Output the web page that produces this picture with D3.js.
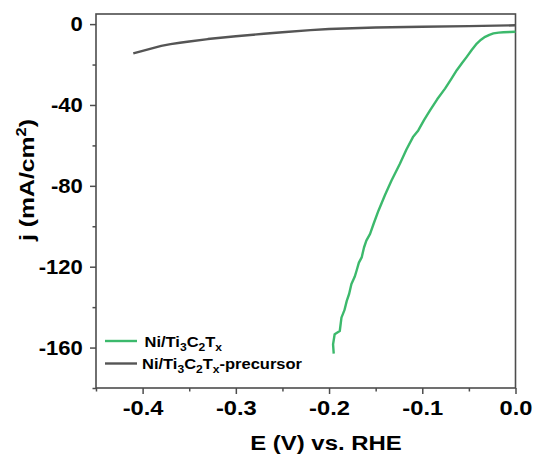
<!DOCTYPE html>
<html>
<head>
<meta charset="utf-8">
<script src="https://cdn.jsdelivr.net/npm/d3@7"></script>
<style>
  html, body { margin: 0; padding: 0; background: #fff; }
  svg text { font-family: "Liberation Sans", Arial, sans-serif; font-weight: bold; fill: #000; }
</style>
</head>
<body>
<svg id="chart" width="535" height="456"></svg>
<script>
// Polarization curves (LSV), potential E vs. RHE and current density j
const catalystE = [-0.195, -0.1957, -0.194, -0.1885, -0.1867, -0.1835, -0.181, -0.1785, -0.176, -0.1725, -0.1705,
  -0.168, -0.165, -0.1625, -0.160, -0.156, -0.152, -0.147, -0.140, -0.133, -0.124, -0.117, -0.110,
  -0.1043, -0.098, -0.0917, -0.084, -0.0756, -0.069, -0.063, -0.0575, -0.0523, -0.047, -0.0415, -0.037,
  -0.0326, -0.028, -0.0237, -0.018, -0.0129, -0.006, 0.0];
const catalystJ = [-163.0, -158.4, -153.4, -151.8, -145.2, -141.5, -136.9, -133.5, -128.6, -125.0, -122.0,
  -118.0, -115.4, -110.5, -107.1, -103.8, -98.5, -92.3, -84.5, -77.4, -69.1, -62.0, -55.9,
  -52.6, -47.4, -42.7, -37.2, -31.9, -27.2, -22.8, -19.4, -16.2, -12.8, -9.6, -7.7,
  -6.3, -5.3, -4.6, -4.2, -4.0, -3.9, -3.8];

const precursorE = [-0.41, -0.40, -0.39, -0.38, -0.37, -0.36, -0.35, -0.33, -0.30, -0.27, -0.25, -0.22, -0.20, -0.15, -0.10, -0.05, 0.0];
const precursorJ = [-14.5, -13.2, -12.0, -10.8, -9.9, -9.2, -8.6, -7.4, -6.0, -4.8, -4.0, -3.0, -2.4, -1.7, -1.3, -1.0, -0.6];

const xMajorTicks = [-0.4, -0.3, -0.2, -0.1, 0.0];
const xMinorTicks = [-0.45, -0.35, -0.25, -0.15, -0.05];
const yMajorTicks = [0, -40, -80, -120, -160];
const yMinorTicks = [-20, -60, -100, -140, -180];

const seriesColors = ["#3cb96c", "#555555"];

const svg = d3.select("#chart");
const margin = { top: 14, right: 19.5, bottom: 68, left: 96 };
const W = 535, H = 456;
const iw = W - margin.left - margin.right;
const ih = H - margin.top - margin.bottom;

const x = d3.scaleLinear().domain([-0.45, 0]).range([0, iw]);
const y = d3.scaleLinear().domain([-180, 5]).range([ih, 0]);

const g = svg.append("g").attr("transform", `translate(${margin.left},${margin.top})`);

const frameColor = "#4d4d4d";
// plain hyphen-minus for negative tick labels
const fmtX = d => (d < 0 ? "-" : "") + Math.abs(d).toFixed(1);
const fmtY = d => (d < 0 ? "-" : "") + Math.abs(d);

function styleAxis(sel) {
  sel.select(".domain").remove();
  sel.selectAll(".tick line").attr("stroke", frameColor).attr("stroke-width", 1.5);
  sel.selectAll(".tick text").style("font-size", "21px").attr("fill", "#000");
}

const xAxis = g.append("g").attr("transform", `translate(0,${ih})`)
  .call(d3.axisBottom(x).tickValues(xMajorTicks).tickSize(6).tickPadding(6).tickFormat(fmtX));
styleAxis(xAxis);
xAxis.selectAll(".tick text").attr("transform", "scale(1.13,1)");
const xMinor = g.append("g").attr("transform", `translate(0,${ih})`)
  .call(d3.axisBottom(x).tickValues(xMinorTicks).tickSize(3.5).tickFormat(""));
styleAxis(xMinor);

const yAxis = g.append("g")
  .call(d3.axisLeft(y).tickValues(yMajorTicks).tickSize(6).tickPadding(7).tickFormat(fmtY));
styleAxis(yAxis);
yAxis.selectAll(".tick text").attr("x", -12.5).attr("transform", "scale(1.05,1)");
const yMinor = g.append("g")
  .call(d3.axisLeft(y).tickValues(yMinorTicks).tickSize(3.5).tickFormat(""));
styleAxis(yMinor);

// frame
g.append("rect")
  .attr("x", 0).attr("y", 0).attr("width", iw).attr("height", ih)
  .attr("fill", "none").attr("stroke", frameColor).attr("stroke-width", 1.6);

// curves
const line = d3.line().x(d => x(d[0])).y(d => y(d[1]));
const seriesData = [
  d3.zip(catalystE, catalystJ),
  d3.zip(precursorE, precursorJ)
];
g.selectAll("path.curve").data(seriesData).join("path")
  .attr("class", "curve")
  .attr("d", line)
  .attr("fill", "none")
  .attr("stroke", (d, i) => seriesColors[i])
  .attr("stroke-width", 2.4)
  .attr("stroke-linejoin", "round");

// axis titles
svg.append("text")
  .attr("transform", "translate(326,450) scale(1.14,1)")
  .attr("text-anchor", "middle")
  .style("font-size", "21px")
  .text("E (V) vs. RHE");

const yTitle = svg.append("text")
  .attr("transform", "translate(34,180) rotate(-90) scale(1.18,1)")
  .attr("text-anchor", "middle")
  .style("font-size", "21px");
yTitle.append("tspan").text("j (mA/cm");
yTitle.append("tspan").attr("dy", -8).style("font-size", "14px").text("2");
yTitle.append("tspan").attr("dy", 8).text(")");

// legend
function chemLabel(sel, suffix) {
  sel.append("tspan").text("Ni/Ti");
  sel.append("tspan").attr("dy", 4).style("font-size", "11px").text("3");
  sel.append("tspan").attr("dy", -4).text("C");
  sel.append("tspan").attr("dy", 4).style("font-size", "11px").text("2");
  sel.append("tspan").attr("dy", -4).text("T");
  sel.append("tspan").attr("dy", 4).style("font-size", "11px").text("x");
  if (suffix) sel.append("tspan").attr("dy", -4).text(suffix);
}
const legendRows = [
  { y: 341, textX: 144.5, suffix: "" },
  { y: 363.5, textX: 142, suffix: "-precursor" }
];
legendRows.forEach((r, i) => {
  svg.append("line")
    .attr("x1", 105).attr("x2", 137)
    .attr("y1", r.y).attr("y2", r.y)
    .attr("stroke", seriesColors[i]).attr("stroke-width", 2.4);
  svg.append("text")
    .attr("transform", `translate(${r.textX},${r.y + 5.5}) scale(1.1,1)`)
    .style("font-size", "15px")
    .call(chemLabel, r.suffix);
});
</script>
</body>
</html>
